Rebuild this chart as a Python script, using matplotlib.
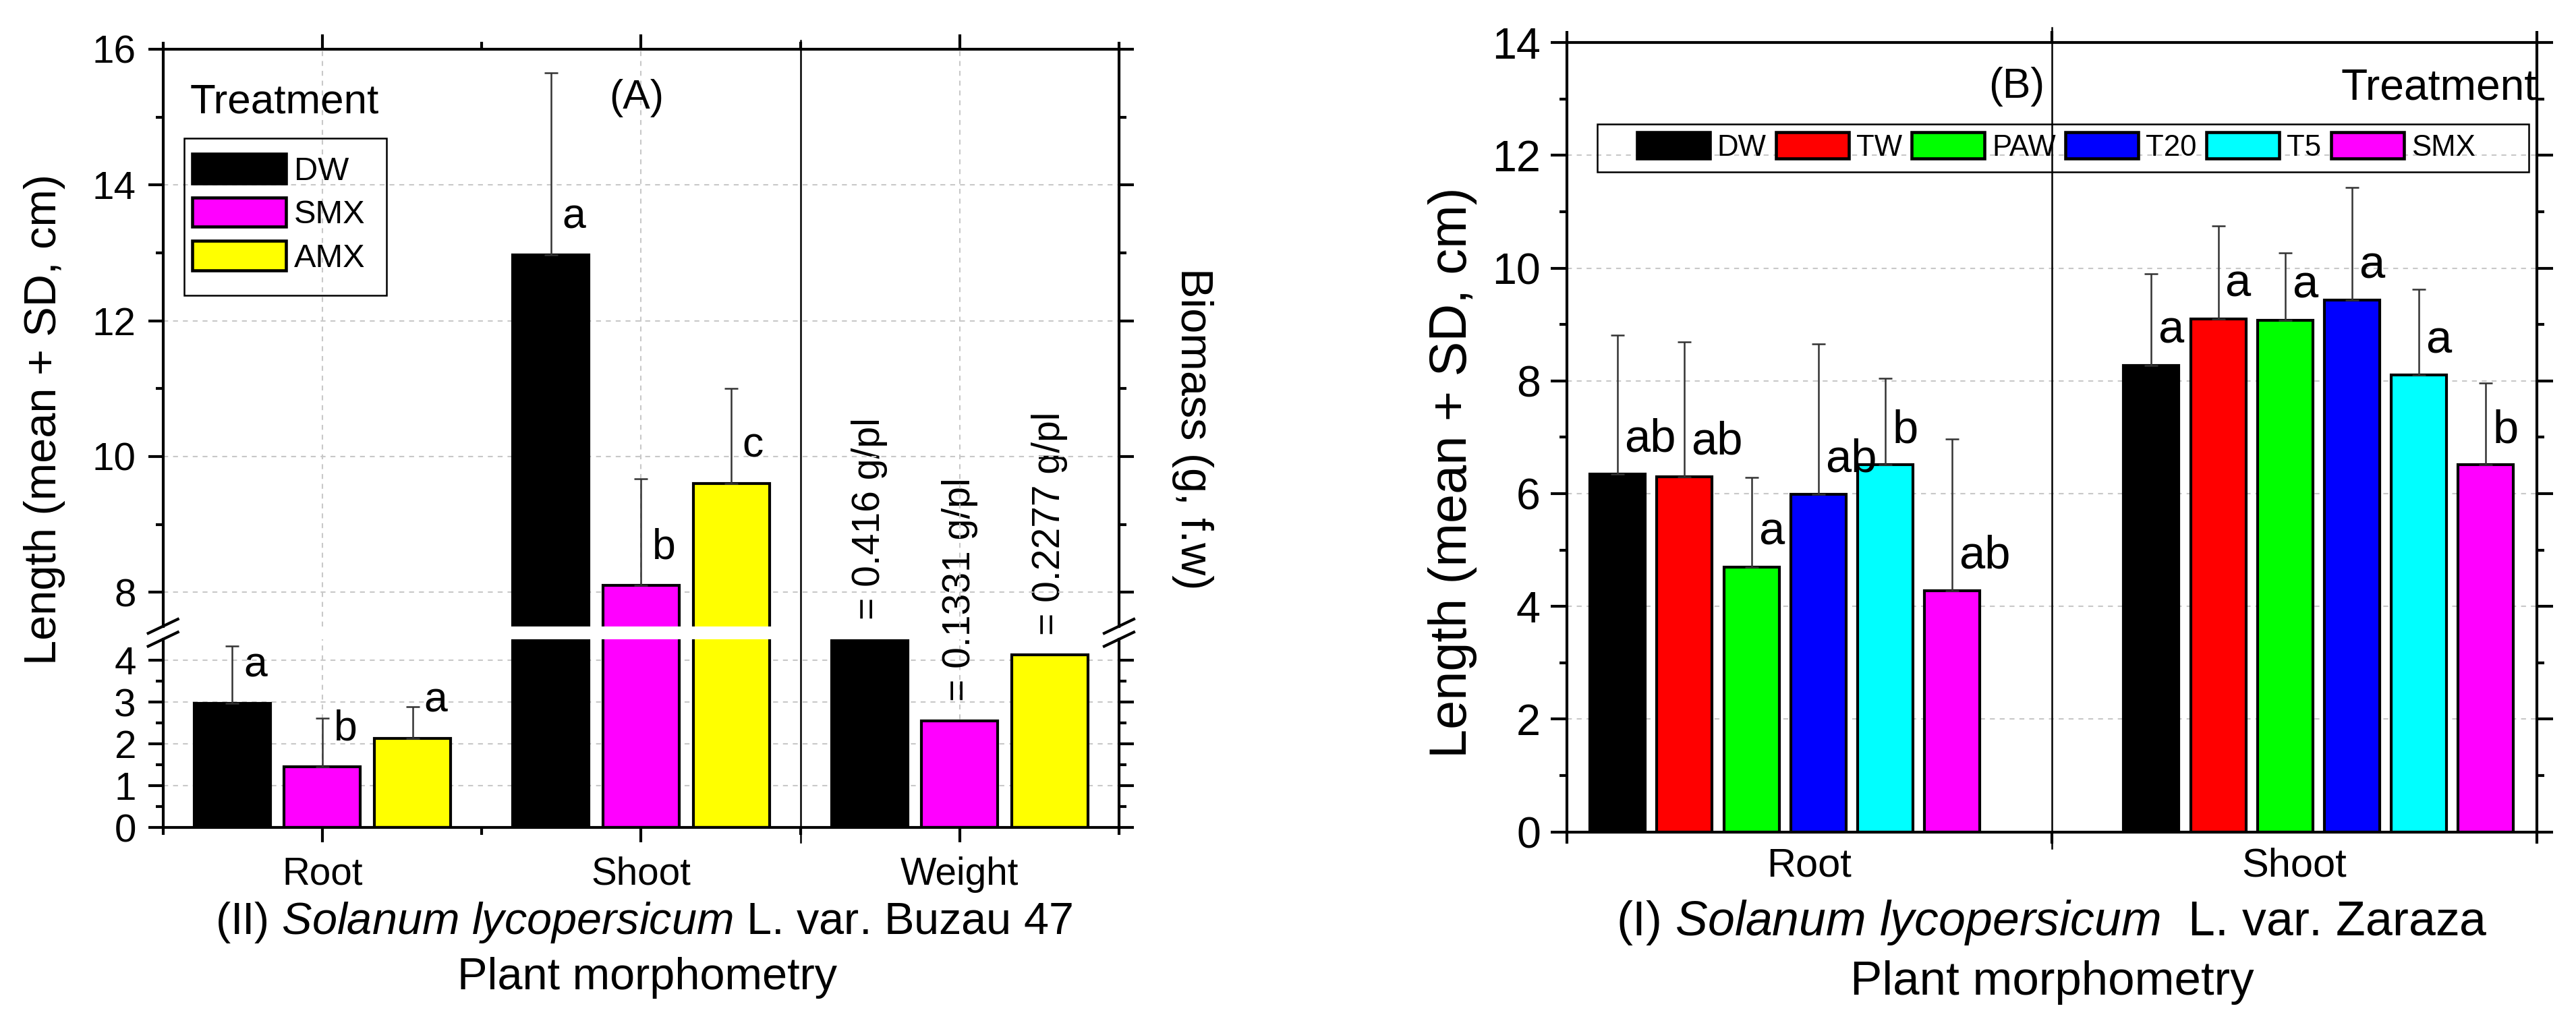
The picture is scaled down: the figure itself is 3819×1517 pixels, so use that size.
import numpy as np
import matplotlib.pyplot as plt
import matplotlib.transforms as mtransforms
from matplotlib.lines import Line2D
from matplotlib.patches import Patch, Rectangle
from matplotlib.ticker import MultipleLocator, FixedLocator, FixedFormatter, NullFormatter

plt.rcParams['font.family'] = ['Liberation Sans', 'DejaVu Sans']
plt.rcParams['mathtext.fontset'] = 'custom'
plt.rcParams['mathtext.rm'] = 'Liberation Sans'
plt.rcParams['mathtext.it'] = 'Liberation Sans:italic'

# ---- panel (A): var. Buzau 47 ----
parts_a = ['Root', 'Shoot', 'Weight']
treat_a = ['DW', 'SMX', 'AMX']
colors_a = ['#000000', '#ff00ff', '#ffff00']
root_a = [2.97, 1.46, 2.13]
root_a_sd = [1.37, 1.15, 0.75]
root_a_letters = ['a', 'b', 'a']
shoot_a = [12.97, 8.10, 9.60]
shoot_a_sd = [2.68, 1.57, 1.40]
shoot_a_letters = ['a', 'b', 'c']
weight_a = [4.5, 2.55, 4.12]          # bar heights as drawn on the length axis
weight_a_text = ['= 0.416 g/pl', '= 0.1331 g/pl', '= 0.2277 g/pl']

# ---- panel (B): var. Zaraza ----
parts_b = ['Root', 'Shoot']
treat_b = ['DW', 'TW', 'PAW', 'T20', 'T5', 'SMX']
colors_b = ['#000000', '#ff0000', '#00ff00', '#0000ff', '#00ffff', '#ff00ff']
root_b = [6.35, 6.30, 4.70, 5.99, 6.51, 4.28]
root_b_sd = [2.46, 2.39, 1.59, 2.67, 1.53, 2.69]
root_b_letters = ['ab', 'ab', 'a', 'ab', 'b', 'ab']
shoot_b = [8.27, 9.10, 9.08, 9.43, 8.10, 6.51]
shoot_b_sd = [1.63, 1.65, 1.19, 2.00, 1.52, 1.45]
shoot_b_letters = ['a', 'a', 'a', 'a', 'a', 'b']

W, H, DPI = 3819, 1517, 300
fig = plt.figure(figsize=(W / DPI, H / DPI), dpi=DPI)


def fx(px):
    return px / W


def fy(py):
    return 1 - py / H


def box(x0, y0, x1, y1):
    return [fx(x0), fy(y1), (x1 - x0) / W, (y1 - y0) / H]


def frame(x0, y0, x1, y1):
    # legend frame drawn in figure pixels
    fig.add_artist(Rectangle((fx(x0), fy(y1)), (x1 - x0) / W, (y1 - y0) / H,
                             transform=fig.transFigure, fill=False,
                             edgecolor='black', linewidth=0.6))


GRID = dict(color='#c8c8c8', linestyle=(0, (3.5, 3.5)), linewidth=0.5)
ERR = dict(fmt='none', ecolor='#333333', elinewidth=0.6, capsize=2.5, capthick=0.6, zorder=3)
LEG = dict(loc='upper left', bbox_transform=fig.transFigure, borderaxespad=0,
           borderpad=0, frameon=False, handleheight=1.0, handletextpad=0.25)


def style(ax, fs, major_len, pad):
    for s in ax.spines.values():
        s.set_linewidth(1.0)
    ax.tick_params(which='both', direction='out', width=1.0, labelsize=fs,
                   right=True, top=True, pad=pad)
    ax.tick_params(which='major', length=major_len)
    ax.tick_params(which='minor', length=2.7)
    ax.patch.set_visible(False)
    ax.set_axisbelow(True)


# ================= left panel, broken axis =================
LX0, LX1 = 241.7, 1659
UP_TOP, UP_BOT = 73, 928.6
LO_TOP, LO_BOT = 947.9, 1227.3

ax_lo = fig.add_axes(box(LX0, LO_TOP, LX1, LO_BOT))
ax_up = fig.add_axes(box(LX0, UP_TOP, LX1, UP_BOT))

xa = np.arange(len(parts_a)) + 0.5
step_a, width_a = 0.283, 0.239
groups_a = [root_a, shoot_a, weight_a]

for ax in (ax_lo, ax_up):
    for i, (name, col) in enumerate(zip(treat_a, colors_a)):
        pos = xa + (i - 1) * step_a
        ax.bar(pos, [g[i] for g in groups_a], width_a, color=col,
               edgecolor='black', linewidth=1.0, zorder=2)
        ax.errorbar(pos[:2], [root_a[i], shoot_a[i]],
                    yerr=[[0, 0], [root_a_sd[i], shoot_a_sd[i]]], **ERR)

for i in range(len(treat_a)):
    off = (i - 1) * step_a
    ax_lo.annotate(root_a_letters[i], (xa[0] + off, root_a[i]), xytext=(4, 13.4),
                   textcoords='offset points', ha='left', va='center', fontsize=15)
    ax_up.annotate(shoot_a_letters[i], (xa[1] + off, shoot_a[i]), xytext=(4, 13.4),
                   textcoords='offset points', ha='left', va='center', fontsize=15)
    ax_lo.annotate(weight_a_text[i], (xa[2] + off, weight_a[i]), xytext=(0, 7),
                   textcoords='offset points', rotation=90, ha='center', va='bottom',
                   fontsize=13.7, annotation_clip=False, zorder=5)

for ax in (ax_lo, ax_up):
    ax.set_xlim(0, 3)
    ax.xaxis.set_major_locator(FixedLocator(xa))
    ax.xaxis.set_minor_locator(FixedLocator([0, 1, 2, 3]))
    ax.grid(axis='both', which='major', **GRID)
    style(ax, 14, 5.2, 4.4)

ax_up.set_ylim(7.5, 16)
ax_up.yaxis.set_major_locator(MultipleLocator(2))
ax_up.yaxis.set_minor_locator(MultipleLocator(1))
ax_up.spines['bottom'].set_visible(False)
ax_up.tick_params(axis='x', which='both', bottom=False, labelbottom=False)

ax_lo.set_ylim(0, 4.5)
ax_lo.yaxis.set_major_locator(MultipleLocator(1))
ax_lo.yaxis.set_minor_locator(FixedLocator([0.5, 1.5, 2.5, 3.5]))
ax_lo.spines['top'].set_visible(False)
ax_lo.tick_params(axis='x', which='both', top=False)
ax_lo.set_xticklabels(parts_a)
ax_lo.tick_params(axis='x', which='major', pad=5, labelsize=13.6)

# break marks
for xp in (LX0, LX1):
    for yp in (UP_BOT, LO_TOP):
        fig.add_artist(Line2D([fx(xp - 22), fx(xp + 22)], [fy(yp + 10.5), fy(yp - 10.5)],
                              color='black', lw=1.0))

# separator between Shoot and Weight
tr = mtransforms.blended_transform_factory(ax_lo.transData, fig.transFigure)
fig.add_artist(Line2D([2, 2], [fy(60.4), fy(1248.6)], transform=tr, color='black', lw=0.6))

handles_a = [Patch(facecolor=c, edgecolor='black', linewidth=1.1, label=t)
             for c, t in zip(colors_a, treat_a)]
frame(273.3, 205, 573.3, 437.6)
fig.legend(handles=handles_a, bbox_to_anchor=(fx(285), fy(228)), fontsize=11.7,
           handlelength=2.85, labelspacing=0.333, **LEG)

fig.text(fx(281.7), fy(167), 'Treatment', fontsize=14.9, va='baseline', ha='left')
fig.text(fx(944), fy(145.5), '(A)', fontsize=14.6, va='center', ha='center')
fig.text(fx(66), fy(622), 'Length (mean + SD, cm)', fontsize=16, rotation=90,
         ha='center', va='center')
fig.text(fx(1768), fy(636), 'Biomass (g, f.w)', fontsize=16, rotation=270,
         ha='center', va='center')
fig.text(fx(955), fy(1385), r'(II) $\mathit{Solanum\ lycopersicum}$ L. var. Buzau 47',
         fontsize=16, ha='center', va='baseline')
fig.text(fx(960), fy(1467), 'Plant morphometry', fontsize=16, ha='center', va='baseline')

# ================= right panel =================
RX0, RX1, RY0, RY1 = 2322.7, 3761, 63.3, 1233.5
axb = fig.add_axes(box(RX0, RY0, RX1, RY1))

xb = np.arange(len(parts_b)) + 0.5
group_shift = np.array([-0.05, 0.05])
step_b, width_b = 0.138, 0.114

for i, col in enumerate(colors_b):
    pos = xb + group_shift + (i - 2.5) * step_b
    vals = [root_b[i], shoot_b[i]]
    axb.bar(pos, vals, width_b, color=col, edgecolor='black', linewidth=1.0, zorder=2)
    axb.errorbar(pos, vals, yerr=[[0, 0], [root_b_sd[i], shoot_b_sd[i]]], **ERR)
    for p, v, lt in zip(pos, vals, [root_b_letters[i], shoot_b_letters[i]]):
        axb.annotate(lt, (p, v), xytext=(2.4, 12.3), textcoords='offset points',
                     ha='left', va='center', fontsize=16.5)

axb.set_xlim(0, 2)
axb.set_ylim(0, 14)
axb.yaxis.set_major_locator(MultipleLocator(2))
axb.yaxis.set_minor_locator(MultipleLocator(1))
axb.xaxis.set_major_locator(FixedLocator([0, 1, 2]))
axb.xaxis.set_major_formatter(NullFormatter())
axb.xaxis.set_minor_locator(FixedLocator(xb))
axb.xaxis.set_minor_formatter(FixedFormatter(parts_b))
axb.grid(axis='y', which='major', **GRID)
style(axb, 15.5, 5.7, 3.6)
axb.tick_params(axis='x', which='major', length=4)
axb.tick_params(axis='x', which='minor', length=0, pad=5.4, labelsize=14.3)

trb = mtransforms.blended_transform_factory(axb.transData, fig.transFigure)
fig.add_artist(Line2D([1, 1], [fy(41), fy(1258)], transform=trb, color='black', lw=0.6))

handles_b = [Patch(facecolor=c, edgecolor='black', linewidth=1.1, label=t)
             for c, t in zip(colors_b, treat_b)]
frame(2367.7, 184, 3749.3, 255)
fig.legend(handles=handles_b, ncol=6, bbox_to_anchor=(fx(2426.5), fy(196)),
           fontsize=10.5, handlelength=2.47, columnspacing=0.33, **LEG)

fig.text(fx(3470), fy(147), 'Treatment', fontsize=15.4, va='baseline', ha='left')
fig.text(fx(2989.8), fy(128), '(B)', fontsize=15, va='center', ha='center')
fig.text(fx(2154), fy(701), 'Length (mean + SD, cm)', fontsize=18.6, rotation=90,
         ha='center', va='center')
fig.text(fx(3042), fy(1387), r'(I) $\mathit{Solanum\ lycopersicum}$  L. var. Zaraza',
         fontsize=17.2, ha='center', va='baseline')
fig.text(fx(3042), fy(1475), 'Plant morphometry', fontsize=17, ha='center', va='baseline')

fig.savefig('out.png', dpi=DPI)
